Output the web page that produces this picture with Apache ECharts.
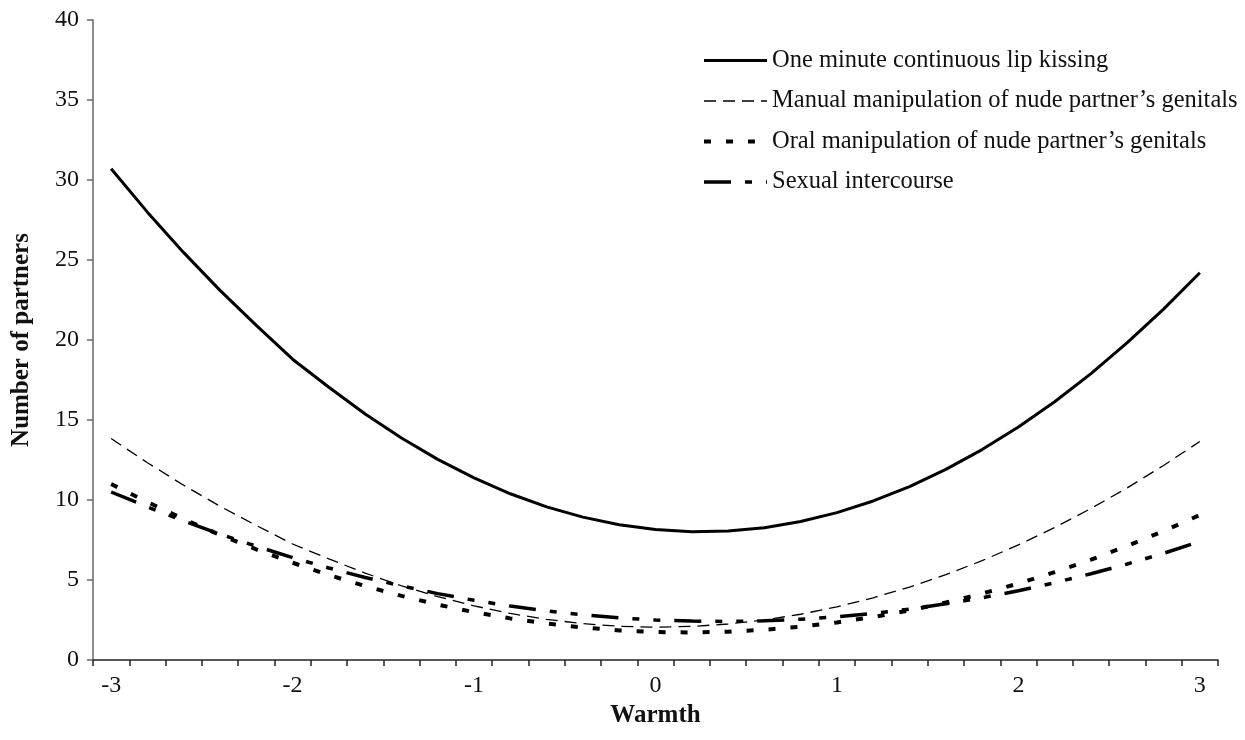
<!DOCTYPE html>
<html>
<head>
<meta charset="utf-8">
<script src="https://cdn.jsdelivr.net/npm/echarts@6/dist/echarts.min.js"></script>
<style>
  html, body { margin: 0; padding: 0; background: #fff; }
  #chart { width: 1245px; height: 740px; }
</style>
</head>
<body>
<div id="chart"></div>
<script>
// warmth categories, -3 .. 3 step 0.2 (label shown on whole numbers only)
var warmth = ['-3', '-2.8', '-2.6', '-2.4', '-2.2', '-2', '-1.8', '-1.6', '-1.4', '-1.2',
    '-1', '-0.8', '-0.6', '-0.4', '-0.2', '0', '0.2', '0.4', '0.6', '0.8',
    '1', '1.2', '1.4', '1.6', '1.8', '2', '2.2', '2.4', '2.6', '2.8', '3'];

var seriesNames = [
    'One minute continuous lip kissing',
    'Manual manipulation of nude partner\u2019s genitals',
    'Oral manipulation of nude partner\u2019s genitals',
    'Sexual intercourse'
];

// values
var kissing = [30.70, 27.99, 25.46, 23.10, 20.91, 18.80, 17.05, 15.37, 13.87, 12.54,
    11.38, 10.39, 9.57, 8.93, 8.45, 8.15, 8.02, 8.06, 8.27, 8.66,
    9.21, 9.94, 10.84, 11.91, 13.15, 14.56, 16.14, 17.90, 19.83, 21.93, 24.20];

var manual = [13.84, 12.33, 10.92, 9.61, 8.41, 7.25, 6.32, 5.43, 4.64, 3.96,
    3.38, 2.91, 2.54, 2.27, 2.11, 2.05, 2.10, 2.25, 2.50, 2.86,
    3.32, 3.89, 4.56, 5.33, 6.21, 7.19, 8.28, 9.47, 10.76, 12.16, 13.66];

var oral = [11.00, 9.87, 8.81, 7.82, 6.91, 6.08, 5.31, 4.62, 4.01, 3.46,
    2.99, 2.60, 2.28, 2.03, 1.85, 1.75, 1.72, 1.77, 1.89, 2.08,
    2.35, 2.69, 3.10, 3.59, 4.15, 4.78, 5.49, 6.27, 7.13, 8.06, 9.06];

var intercourse = [10.50, 9.57, 8.69, 7.87, 7.11, 6.40, 5.75, 5.16, 4.63, 4.15,
    3.73, 3.37, 3.07, 2.82, 2.63, 2.50, 2.43, 2.41, 2.45, 2.55,
    2.70, 2.91, 3.18, 3.51, 3.89, 4.33, 4.83, 5.39, 6.00, 6.67, 7.40];

var FONT = '"Liberation Serif", "Times New Roman", serif';

var chart = echarts.init(document.getElementById('chart'), null, { renderer: 'canvas' });

function makeLine(name, data, width, dash) {
    return {
        name: name,
        type: 'line',
        data: data,
        symbol: 'none',
        smooth: false,
        lineStyle: { color: '#000', width: width, type: dash, cap: 'butt' },
        itemStyle: { color: '#000' },
        emphasis: { disabled: true }
    };
}

var option = {
    animation: false,
    backgroundColor: '#fff',
    textStyle: { fontFamily: FONT, color: '#111' },
    grid: { left: 93, right: 27, top: 20, bottom: 80, containLabel: false },
    legend: {
        orient: 'vertical',
        left: 697,
        top: 43,
        itemWidth: 63,
        itemHeight: 14,
        itemGap: 15.5,
        itemStyle: { opacity: 0, borderWidth: 0 },
        lineStyle: { width: 'inherit' },
        textStyle: { fontFamily: FONT, fontSize: 24.5, color: '#111', lineHeight: 25 },
        selectedMode: false,
        data: seriesNames
    },
    xAxis: {
        type: 'category',
        data: warmth,
        boundaryGap: true,
        name: 'Warmth',
        nameLocation: 'middle',
        nameGap: 39,
        nameTextStyle: { fontFamily: FONT, fontSize: 25, fontWeight: 'bold', color: '#111' },
        axisLine: { lineStyle: { color: '#222', width: 1.5 } },
        axisTick: { show: true, interval: 0, length: 6, lineStyle: { color: '#222', width: 1.5 } },
        axisLabel: { interval: 4, margin: 14, fontFamily: FONT, fontSize: 24, color: '#111' },
        splitLine: { show: false }
    },
    yAxis: {
        type: 'value',
        min: 0,
        max: 40,
        interval: 5,
        name: 'Number of partners',
        nameLocation: 'middle',
        nameGap: 59,
        nameTextStyle: { fontFamily: FONT, fontSize: 25, fontWeight: 'bold', color: '#111' },
        axisLine: { show: true, lineStyle: { color: '#666', width: 1.5 } },
        axisTick: { show: true, length: 6, lineStyle: { color: '#666', width: 1.5 } },
        axisLabel: { margin: 14, fontFamily: FONT, fontSize: 24, color: '#111' },
        splitLine: { show: false }
    },
    series: [
        makeLine(seriesNames[0], kissing, 3, 'solid'),
        makeLine(seriesNames[1], manual, 1.3, [12, 7]),
        makeLine(seriesNames[2], oral, 4, [7, 15]),
        makeLine(seriesNames[3], intercourse, 3.5, [27, 14, 7, 14, 7, 14])
    ]
};

chart.setOption(option);
</script>
</body>
</html>
